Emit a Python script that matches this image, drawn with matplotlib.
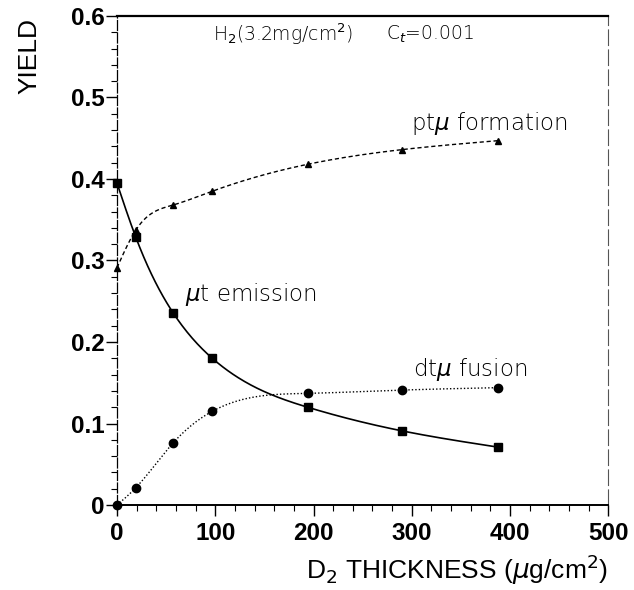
import numpy as np
import matplotlib
matplotlib.use("Agg")
import matplotlib.pyplot as plt
from matplotlib.ticker import MultipleLocator, FixedLocator, FixedFormatter

# D2 layer thickness (ug/cm^2) and yields
thickness = [0, 19, 57, 97, 194, 290, 388]
mut_emission = [0.395, 0.329, 0.236, 0.180, 0.120, 0.091, 0.071]
dtmu_fusion = [0.000, 0.021, 0.076, 0.115, 0.137, 0.141, 0.144]
ptmu_formation = [0.291, 0.337, 0.368, 0.385, 0.418, 0.436, 0.447]

x_ticks = [0, 100, 200, 300, 400, 500]
x_tick_labels = ["0", "100", "200", "300", "400", "500"]
y_ticks = [0, 0.1, 0.2, 0.3, 0.4, 0.5, 0.6]
y_tick_labels = ["0", "0.1", "0.2", "0.3", "0.4", "0.5", "0.6"]


def natural_spline(x, y, n=300):
    """Natural cubic spline through (x, y), evaluated on a fine grid."""
    x = np.asarray(x, float)
    y = np.asarray(y, float)
    m = len(x)
    h = np.diff(x)
    A = np.zeros((m, m))
    b = np.zeros(m)
    A[0, 0] = A[-1, -1] = 1.0
    for i in range(1, m - 1):
        A[i, i - 1] = h[i - 1]
        A[i, i] = 2 * (h[i - 1] + h[i])
        A[i, i + 1] = h[i]
        b[i] = 3 * ((y[i + 1] - y[i]) / h[i] - (y[i] - y[i - 1]) / h[i - 1])
    c = np.linalg.solve(A, b)
    xs = np.linspace(x[0], x[-1], n)
    idx = np.clip(np.searchsorted(x, xs) - 1, 0, m - 2)
    dx = xs - x[idx]
    bb = (y[idx + 1] - y[idx]) / h[idx] - h[idx] * (2 * c[idx] + c[idx + 1]) / 3
    dd = (c[idx + 1] - c[idx]) / (3 * h[idx])
    ys = y[idx] + bb * dx + c[idx] * dx ** 2 + dd * dx ** 3
    return xs, ys


fig = plt.figure(figsize=(6.34, 5.90), dpi=100)
ax = fig.add_axes([0.1845, 0.144, 0.775, 0.829])

# curves through the measured points
xs, ys = natural_spline(thickness, mut_emission)
ax.plot(xs, ys, color="black", lw=1.2, ls="-")
ax.plot(thickness, mut_emission, ls="none", marker="s", ms=6, color="black",
        clip_on=False, zorder=4)

xs, ys = natural_spline(thickness, dtmu_fusion)
ax.plot(xs, ys, color="black", lw=1.0, ls=(0, (1, 1.5)))
ax.plot(thickness, dtmu_fusion, ls="none", marker="o", ms=6, color="black",
        clip_on=False, zorder=4)

xs, ys = natural_spline(thickness, ptmu_formation)
ax.plot(xs, ys, color="black", lw=1.0, ls=(0, (3, 2)))
ax.plot(thickness, ptmu_formation, ls="none", marker="^", ms=5, color="black",
        clip_on=False, zorder=4)

ax.set_xlim(0, 500)
ax.set_ylim(0, 0.6)

ax.xaxis.set_major_locator(FixedLocator(x_ticks))
ax.xaxis.set_major_formatter(FixedFormatter(x_tick_labels))
ax.xaxis.set_minor_locator(MultipleLocator(20))
ax.yaxis.set_major_locator(FixedLocator(y_ticks))
ax.yaxis.set_major_formatter(FixedFormatter(y_tick_labels))
ax.yaxis.set_minor_locator(MultipleLocator(0.02))

for lab in ax.get_xticklabels() + ax.get_yticklabels():
    lab.set_fontfamily("Liberation Sans")
    lab.set_fontsize(17.5)
    lab.set_fontweight("bold")
ax.tick_params(which="both", direction="out", top=False, right=False, color="black")
ax.tick_params(which="major", length=8, width=1.0)
ax.tick_params(axis="y", which="major", pad=1)
ax.tick_params(axis="x", which="major", pad=4)
ax.tick_params(which="minor", length=4, width=0.8)

ax.spines["top"].set_linewidth(1.6)
ax.spines["bottom"].set_linewidth(1.4)
ax.spines["left"].set_linewidth(0.9)
ax.spines["left"].set_linestyle((0, (8, 2)))
ax.spines["right"].set_linewidth(0.8)
ax.spines["right"].set_color("#555555")
ax.spines["right"].set_linestyle((0, (14, 4)))

ax.set_ylabel("YIELD", family="Liberation Sans", size=19)
ax.yaxis.set_label_coords(-0.153, 0.918)
ax.set_xlabel(r"D$_2$ THICKNESS ($\mu$g/cm$^2$)", family="Liberation Sans", size=19)
ax.xaxis.set_label_coords(1.0, -0.098)
ax.xaxis.label.set_horizontalalignment("right")

note_font = dict(family="DejaVu Sans", size=16.5, color="black", weight="light",
                 va="center", transform=ax.transAxes)
ax.text(0.599, 0.78, r"pt$\mu$ formation", **note_font)
ax.text(0.139, 0.430, r"$\mu$t emission", **note_font)
ax.text(0.603, 0.278, r"dt$\mu$ fusion", **note_font)

head_font = dict(family="DejaVu Sans", size=13.5, color="black", weight="light",
                 va="center", transform=ax.transAxes)
ax.text(0.196, 0.962, r"H$_2$(3.2mg/cm$^2$)", ha="left", **head_font)
ax.text(0.726, 0.962, r"C$_t$=0.001", ha="right", **head_font)

fig.savefig("out.png", dpi=100)
